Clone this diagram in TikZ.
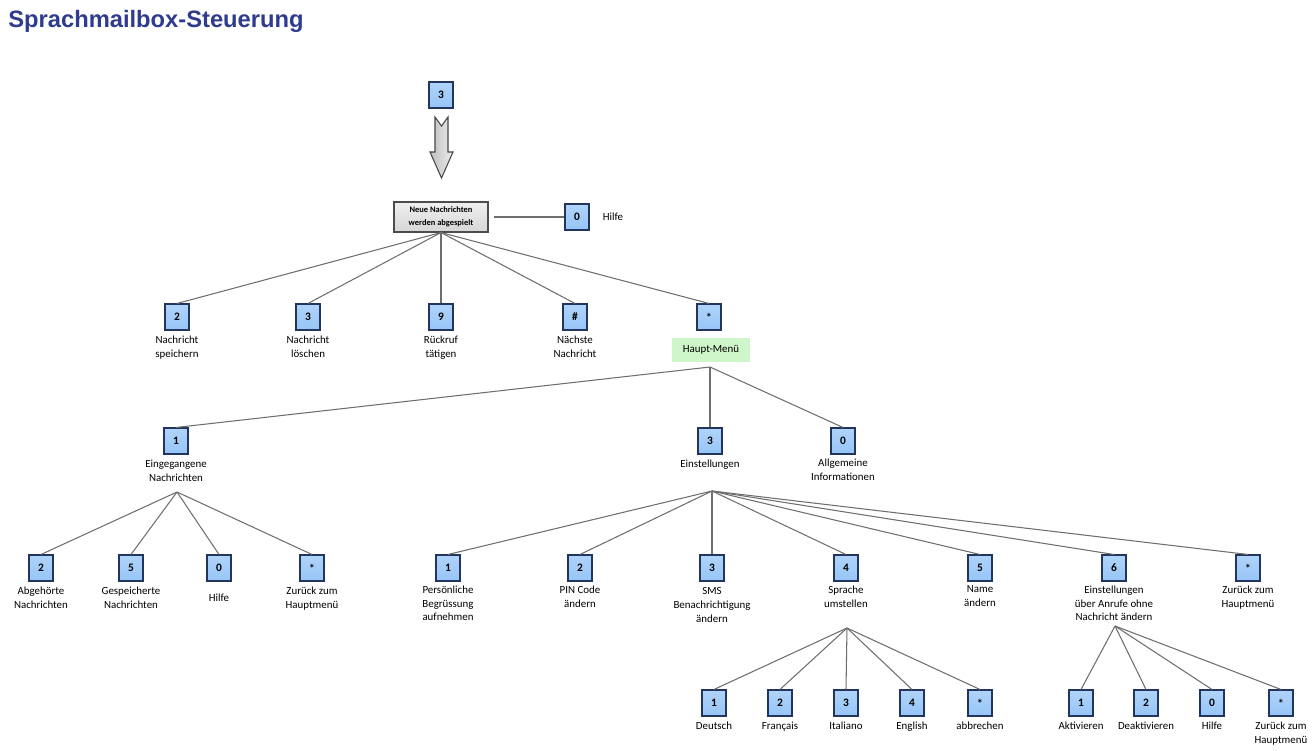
\documentclass[tikz,border=0pt]{standalone}
\usepackage{fontspec}
\setmainfont{Carlito}
\newfontfamily\headfont{Liberation Sans}
\usetikzlibrary{positioning}
\definecolor{keyblue}{HTML}{96C5F7}
\definecolor{keyedge}{HTML}{22355C}
\definecolor{wire}{HTML}{6E6E6E}
\definecolor{menugreen}{HTML}{CFF5CB}
\definecolor{headblue}{HTML}{2E3B8E}
\definecolor{playgrey}{HTML}{D6D6D6}
\tikzset{key/.style={draw=keyedge,line width=0.6pt,top color=keyblue!75!white,bottom color=keyblue,
    minimum width=0.48cm,minimum height=0.52cm,inner sep=0pt,font=\fontsize{6.5}{7}\selectfont\bfseries},
  lbl/.style={align=center,inner sep=0pt,font=\fontsize{6.2}{7.8}\selectfont},
  playbox/.style={draw=gray!60!black,line width=0.6pt,top color=gray!12,bottom color=playgrey,
    minimum width=1.88cm,minimum height=0.6cm,align=center,inner sep=1pt,font=\fontsize{4.8}{7.4}\selectfont\bfseries},
  menu/.style={fill=menugreen,minimum width=1.56cm,minimum height=0.48cm,inner sep=0pt,font=\fontsize{6.2}{7}\selectfont},
  wire/.style={draw=wire,line width=0.6pt},
  heading/.style={anchor=base west,inner sep=0pt,text=headblue,font=\headfont\bfseries\fontsize{13.5}{16}\selectfont}}
\begin{document}
\begin{tikzpicture}[x=0.02cm,y=-0.02cm]
\useasboundingbox (0,0) rectangle (1313,751);
\node[heading] (title) at (8,27) {Sprachmailbox-Steuerung};
% start and playback
\node[key] (start) at (441,95) {3};
\draw[draw=gray!55!black,line width=0.6pt,left color=gray!50,right color=gray!15]
  (435,117) -- (441.5,126) -- (448,117) -- (448,152) -- (453,152) -- (441.5,178) -- (430,152) -- (435,152) -- cycle;
\node[playbox] (play) at (441,217) {Neue Nachrichten\\werden abgespielt};
\node[key] (help) at (577,217) {0};
\node[lbl,right=0.26cm of help] (helpL) {Hilfe};
\draw[wire,shorten <=3pt] (play.east) -- (help.west);
% while playing
\node[key] (save) at (177,317) {2};
\node[lbl,below=0.1cm of save] (saveL) {Nachricht\\speichern};
\node[key] (del) at (308,317) {3};
\node[lbl,below=0.1cm of del] (delL) {Nachricht\\löschen};
\node[key] (call) at (441,317) {9};
\node[lbl,below=0.1cm of call] (callL) {Rückruf\\tätigen};
\node[key] (next) at (575,317) {\#};
\node[lbl,below=0.1cm of next] (nextL) {Nächste\\Nachricht};
\node[key] (star) at (709,317) {*};
\node[menu,below=0.14cm of star,xshift=0.04cm] (menu) {Haupt-Menü};
\draw[wire] (play.south) -- (save.north);
\draw[wire] (play.south) -- (del.north);
\draw[wire] (play.south) -- (call.north);
\draw[wire] (play.south) -- (next.north);
\draw[wire] (play.south) -- (star.north);
% main menu
\coordinate (hubmenu) at (710,367);
\node[key] (inbox) at (176,441) {1};
\node[lbl,below=0.1cm of inbox] (inboxL) {Eingegangene\\Nachrichten};
\node[key] (setup) at (710,441) {3};
\node[lbl,below=0.1cm of setup] (setupL) {Einstellungen};
\node[key] (info) at (843,441) {0};
\node[lbl,below=0.08cm of info] (infoL) {Allgemeine\\Informationen};
\draw[wire] (hubmenu) -- (inbox.north);
\draw[wire] (hubmenu) -- (setup.north);
\draw[wire] (hubmenu) -- (info.north);
% inbox
\coordinate (hubinbox) at (177,492);
\node[key] (heard) at (41,568) {2};
\node[lbl,below=0.1cm of heard] (heardL) {Abgehörte\\Nachrichten};
\node[key] (kept) at (131,568) {5};
\node[lbl,below=0.1cm of kept] (keptL) {Gespeicherte\\Nachrichten};
\node[key] (ihelp) at (219,568) {0};
\node[lbl,below=0.24cm of ihelp] (ihelpL) {Hilfe};
\node[key] (iback) at (312,568) {*};
\node[lbl,below=0.1cm of iback] (ibackL) {Zurück zum\\Hauptmenü};
\draw[wire] (hubinbox) -- (heard.north);
\draw[wire] (hubinbox) -- (kept.north);
\draw[wire] (hubinbox) -- (ihelp.north);
\draw[wire] (hubinbox) -- (iback.north);
% settings
\coordinate (hubsetup) at (712,491);
\node[key] (greet) at (448,568) {1};
\node[lbl,below=0.08cm of greet] (greetL) {Persönliche\\Begrüssung\\aufnehmen};
\node[key] (pin) at (580,568) {2};
\node[lbl,below=0.08cm of pin] (pinL) {PIN Code\\ändern};
\node[key] (sms) at (712,568) {3};
\node[lbl,below=0.12cm of sms] (smsL) {SMS\\Benachrichtigung\\ändern};
\node[key] (lang) at (846,568) {4};
\node[lbl,below=0.08cm of lang] (langL) {Sprache\\umstellen};
\node[key] (name) at (980,568) {5};
\node[lbl,below=0.08cm of name] (nameL) {Name\\ändern};
\node[key] (divert) at (1114,568) {6};
\node[lbl,below=0.08cm of divert] (divertL) {Einstellungen\\über Anrufe ohne\\Nachricht ändern};
\node[key] (sback) at (1248,568) {*};
\node[lbl,below=0.08cm of sback] (sbackL) {Zurück zum\\Hauptmenü};
\draw[wire] (hubsetup) -- (greet.north);
\draw[wire] (hubsetup) -- (pin.north);
\draw[wire] (hubsetup) -- (sms.north);
\draw[wire] (hubsetup) -- (lang.north);
\draw[wire] (hubsetup) -- (name.north);
\draw[wire] (hubsetup) -- (divert.north);
\draw[wire] (hubsetup) -- (sback.north);
% language
\coordinate (hublang) at (847,628);
\node[key] (de) at (714,703) {1};
\node[lbl,below=0.1cm of de] (deL) {Deutsch};
\node[key] (fr) at (780,703) {2};
\node[lbl,below=0.1cm of fr] (frL) {Français};
\node[key] (it) at (846,703) {3};
\node[lbl,below=0.1cm of it] (itL) {Italiano};
\node[key] (en) at (912,703) {4};
\node[lbl,below=0.1cm of en] (enL) {English};
\node[key] (abort) at (980,703) {*};
\node[lbl,below=0.1cm of abort] (abortL) {abbrechen};
\draw[wire] (hublang) -- (de.north);
\draw[wire] (hublang) -- (fr.north);
\draw[wire] (hublang) -- (it.north);
\draw[wire] (hublang) -- (en.north);
\draw[wire] (hublang) -- (abort.north);
% calls without message
\coordinate (hubdivert) at (1115,626);
\node[key] (on) at (1081,703) {1};
\node[lbl,below=0.1cm of on] (onL) {Aktivieren};
\node[key] (off) at (1146,703) {2};
\node[lbl,below=0.1cm of off] (offL) {Deaktivieren};
\node[key] (dhelp) at (1212,703) {0};
\node[lbl,below=0.1cm of dhelp] (dhelpL) {Hilfe};
\node[key] (dback) at (1281,703) {*};
\node[lbl,below=0.1cm of dback] (dbackL) {Zurück zum\\Hauptmenü};
\draw[wire] (hubdivert) -- (on.north);
\draw[wire] (hubdivert) -- (off.north);
\draw[wire] (hubdivert) -- (dhelp.north);
\draw[wire] (hubdivert) -- (dback.north);
\end{tikzpicture}
\end{document}
